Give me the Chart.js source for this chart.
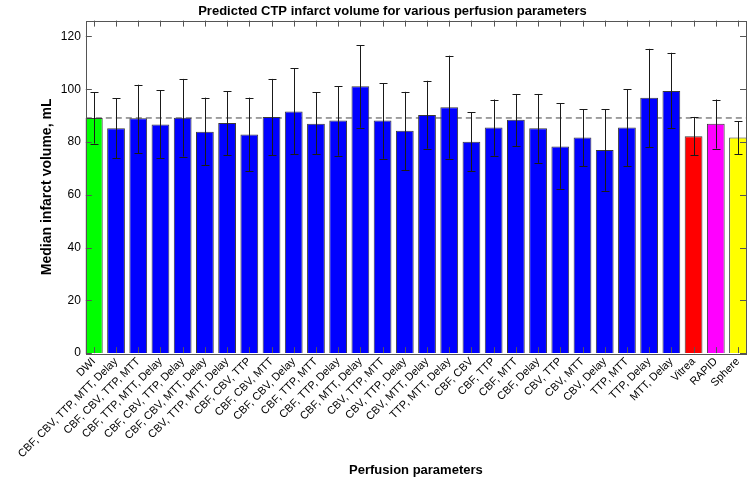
<!DOCTYPE html>
<html>
<head>
<meta charset="utf-8">
<script src="https://cdn.jsdelivr.net/npm/chart.js@4.4.1/dist/chart.umd.min.js"></script>
<style>
  body { margin: 0; background: #fff; }
</style>
</head>
<body>
<canvas id="chart" width="750" height="483"></canvas>
<script>
// Combinaciones de parámetros de perfusión
const labels = [
    'DWI',
    'CBF, CBV, TTP, MTT, Delay',
    'CBF, CBV, TTP, MTT', 'CBF, TTP, MTT, Delay', 'CBF, CBV, TTP, Delay',
    'CBF, CBV, MTT, Delay', 'CBV, TTP, MTT, Delay',
    'CBF, CBV, TTP', 'CBF, CBV, MTT', 'CBF, CBV, Delay', 'CBF, TTP, MTT',
    'CBF, TTP, Delay', 'CBF, MTT, Delay', 'CBV, TTP, MTT', 'CBV, TTP, Delay',
    'CBV, MTT, Delay', 'TTP, MTT, Delay',
    'CBF, CBV', 'CBF, TTP', 'CBF, MTT', 'CBF, Delay', 'CBV, TTP', 'CBV, MTT',
    'CBV, Delay', 'TTP, MTT', 'TTP, Delay', 'MTT, Delay',
    'Vitrea', 'RAPID', 'Sphere'
];

// Mediana del volumen de infarto (mL)
const medians = [
    89.1, 85.2, 89.0, 86.6, 89.2, 83.9, 87.2, 82.8, 89.5, 91.6,
    86.9, 88.1, 101.1, 88.1, 84.3, 90.2, 93.2, 80.1, 85.5, 88.4,
    85.2, 78.3, 81.7, 77.0, 85.5, 96.8, 99.3, 82.2, 86.9, 81.7
];

// Barras de error: límite superior e inferior
const errHigh = [
    98.8, 96.6, 101.7, 99.7, 103.9, 96.8, 99.3, 96.8, 103.9, 108.0,
    98.8, 101.1, 116.7, 102.3, 99.0, 103.2, 112.7, 91.2, 96.1, 98.2,
    98.2, 94.6, 92.4, 92.4, 100.0, 115.3, 113.8, 89.5, 96.1, 87.9
];
const errLow = [
    79.4, 73.9, 75.7, 73.8, 74.5, 71.3, 75.0, 69.0, 75.0, 75.4,
    75.4, 74.8, 85.4, 73.7, 69.2, 77.5, 73.7, 69.0, 74.8, 78.3,
    72.1, 62.3, 70.9, 61.5, 70.8, 78.1, 85.2, 75.0, 77.5, 75.4
];

const barColors = labels.map(l => {
    if (l === 'DWI') return '#00ff00';
    if (l === 'Vitrea') return '#ff0000';
    if (l === 'RAPID') return '#ff00ff';
    if (l === 'Sphere') return '#ffff00';
    return '#0000ff';
});

const yTicks = [0, 20, 40, 60, 80, 100, 120];
const xMin = 0.64, xMax = 30.36;

// Dibujar barras de error y marcas de los ejes hacia dentro
const extrasPlugin = {
    id: 'extras',
    afterDatasetsDraw(chart) {
        const ctx = chart.ctx;
        const x = chart.scales.x;
        const y = chart.scales.y;
        const area = chart.chartArea;

        ctx.save();
        ctx.strokeStyle = '#1a1a1a';
        ctx.lineWidth = 1;
        medians.forEach((m, i) => {
            const px = Math.round(x.getPixelForValue(i + 1)) + 0.5;
            const top = y.getPixelForValue(errHigh[i]);
            const bot = y.getPixelForValue(errLow[i]);
            ctx.beginPath();
            ctx.moveTo(px, top);
            ctx.lineTo(px, bot);
            ctx.moveTo(px - 4, Math.round(top) + 0.5);
            ctx.lineTo(px + 4, Math.round(top) + 0.5);
            ctx.moveTo(px - 4, Math.round(bot) + 0.5);
            ctx.lineTo(px + 4, Math.round(bot) + 0.5);
            ctx.stroke();
        });

        ctx.strokeStyle = '#555';
        ctx.beginPath();
        yTicks.forEach(v => {
            const py = Math.round(y.getPixelForValue(v)) + 0.5;
            ctx.moveTo(area.left, py);
            ctx.lineTo(area.left + 6, py);
            ctx.moveTo(area.right, py);
            ctx.lineTo(area.right - 6, py);
        });
        labels.forEach((l, i) => {
            const px = Math.round(x.getPixelForValue(i + 1)) + 0.5;
            ctx.moveTo(px, area.bottom);
            ctx.lineTo(px, area.bottom - 6);
            ctx.moveTo(px, area.top);
            ctx.lineTo(px, area.top + 6);
        });
        ctx.stroke();
        ctx.strokeRect(Math.round(area.left) + 0.5, Math.round(area.top) + 0.5,
            Math.round(area.right - area.left), Math.round(area.bottom - area.top));
        ctx.restore();
    }
};

const ctx = document.getElementById('chart').getContext('2d');
new Chart(ctx, {
    type: 'bar',
    data: {
        datasets: [
            {
                // línea discontinua de referencia (DWI), detrás de las barras
                type: 'line',
                data: [{ x: xMin, y: medians[0] }, { x: xMax, y: medians[0] }],
                borderColor: '#444',
                borderWidth: 1,
                borderDash: [6, 4],
                pointRadius: 0,
                order: 2
            },
            {
                data: medians.map((v, i) => ({ x: i + 1, y: v })),
                backgroundColor: barColors,
                borderColor: '#3a3a3a',
                borderWidth: 1,
                barPercentage: 0.8,
                categoryPercentage: 1,
                order: 1
            }
        ]
    },
    options: {
        responsive: false,
        animation: false,
        layout: { padding: { left: 39, right: 4, top: 2, bottom: 5 } },
        plugins: {
            legend: { display: false },
            tooltip: { enabled: false },
            title: {
                display: true,
                text: 'Predicted CTP infarct volume for various perfusion parameters',
                color: '#000',
                font: { family: 'Liberation Sans', size: 13, weight: 'bold' },
                padding: { top: 2, bottom: 1 }
            }
        },
        scales: {
            x: {
                type: 'linear',
                min: xMin,
                max: xMax,
                offset: false,
                grid: { display: false, drawTicks: false },
                border: { display: false },
                afterBuildTicks: axis => {
                    axis.ticks = labels.map((l, i) => ({ value: i + 1 }));
                },
                ticks: {
                    autoSkip: false,
                    minRotation: 45,
                    maxRotation: 45,
                    padding: 2,
                    color: '#000',
                    font: { family: 'Liberation Sans', size: 11 },
                    callback: v => labels[v - 1]
                },
                title: {
                    display: true,
                    text: 'Perfusion parameters',
                    color: '#000',
                    font: { family: 'Liberation Sans', size: 13, weight: 'bold' },
                    padding: { top: 0, bottom: 0 }
                }
            },
            y: {
                min: 0,
                max: 126,
                grid: { display: false, drawTicks: false },
                border: { display: false },
                ticks: {
                    stepSize: 20,
                    includeBounds: false,
                    padding: 5,
                    color: '#000',
                    font: { family: 'Liberation Sans', size: 12 }
                },
                title: {
                    display: true,
                    text: 'Median infarct volume, mL',
                    color: '#000',
                    font: { family: 'Liberation Sans', size: 14, weight: 'bold' },
                    padding: { top: 0, bottom: 0 }
                }
            }
        }
    },
    plugins: [extrasPlugin]
});
</script>
</body>
</html>
